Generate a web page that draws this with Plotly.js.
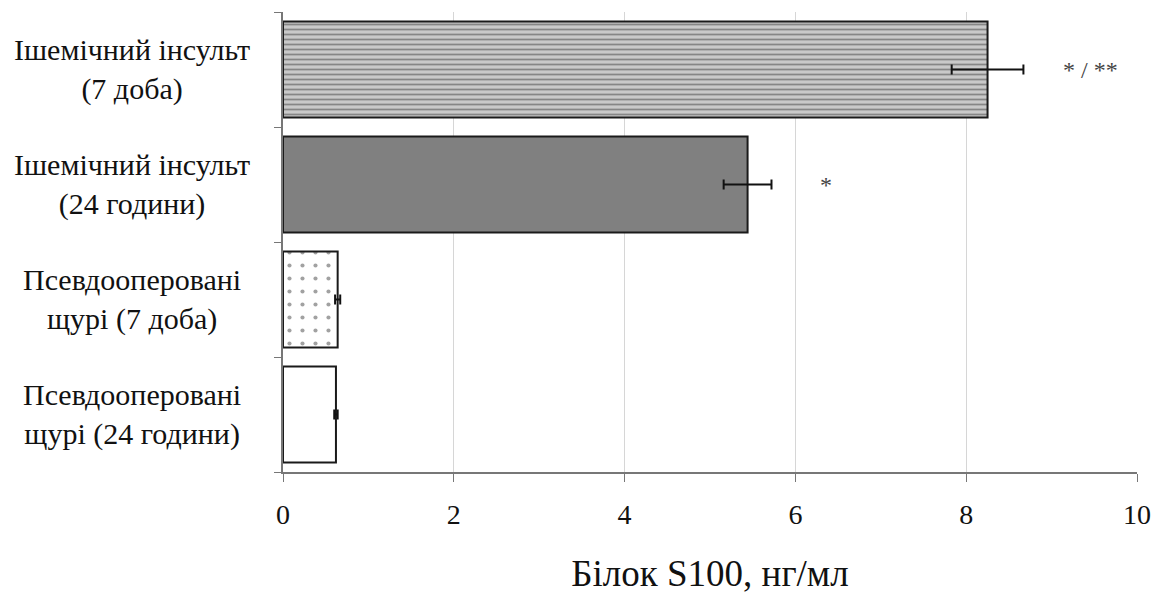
<!DOCTYPE html>
<html><head><meta charset="utf-8">
<script src="https://cdn.plot.ly/plotly-3.0.1.min.js"></script>
<style>body{margin:0;background:#fff}</style>
</head><body><div id="chart" style="width:1161px;height:594px"></div>
<script>
const categories = ["Псевдооперовані<br>щурі (24 години)", "Псевдооперовані<br>щурі (7 доба)", "Ішемічний інсульт<br>(24 години)", "Ішемічний інсульт<br>(7 доба)"];
const values = [0.62, 0.64, 5.44, 8.25];
const errors = [0.02, 0.03, 0.28, 0.42];
const significance = ["", "", "*", "* / **"];
const significanceX = [0, 0, 6.36, 9.45];
const xTicks = [0, 2, 4, 6, 8, 10];
const axisTitle = "Білок S100, нг/мл";

const serif = "Times New Roman, Liberation Serif, DejaVu Serif, serif";

const trace = {
  type: 'bar',
  orientation: 'h',
  y: categories,
  x: values,
  marker: {
    color: ['#ffffff', '#ffffff', '#808080', '#c9c9c9'],
    line: {color: '#1a1a1a', width: 2},
    pattern: {
      shape: ['', '.', '', '-'],
      fgcolor: ['#000000', '#b0b0b0', '#000000', '#909090'],
      size: [8, 13, 8, 5],
      solidity: [0.2, 0.08, 0.2, 0.35],
      fillmode: 'overlay'
    }
  },
  error_x: {type: 'data', array: errors, visible: true, color: '#111', thickness: 2, width: 5},
  hoverinfo: 'x+y'
};

const annotations = [];
categories.forEach((c, i) => {
  annotations.push({
    xref: 'paper', yref: 'y', x: -0.1768, y: c, text: c,
    showarrow: false, xanchor: 'center', yanchor: 'middle', align: 'center',
    font: {family: serif, size: 30, color: '#111'}
  });
  if (significance[i]) {
    annotations.push({
      xref: 'x', yref: 'y', x: significanceX[i], y: c, text: significance[i],
      showarrow: false, xanchor: 'center', yanchor: 'middle',
      font: {family: serif, size: 24, color: '#444'}
    });
  }
});

const layout = {
  width: 1161, height: 594,
  margin: {l: 283, r: 24, t: 12, b: 122},
  paper_bgcolor: '#ffffff', plot_bgcolor: '#ffffff',
  showlegend: false,
  bargap: 0.165,
  font: {family: serif, color: '#111'},
  xaxis: {
    range: [0, 10], tickvals: xTicks, ticktext: xTicks.map(String),
    showgrid: true, gridcolor: '#d6d6d6', gridwidth: 1,
    zeroline: false, showline: true, linecolor: '#777', linewidth: 2,
    ticks: 'outside', ticklen: 8, tickcolor: '#777', tickwidth: 1,
    ticklabelstandoff: 8,
    tickfont: {family: serif, size: 28, color: '#111'},
    title: {text: axisTitle, font: {family: serif, size: 37, color: '#111'}, standoff: 34}
  },
  yaxis: {
    type: 'category', categoryorder: 'array', categoryarray: categories,
    range: [-0.5, 3.5],
    showticklabels: false, showgrid: false, zeroline: false,
    showline: true, linecolor: '#777', linewidth: 2,
    ticks: 'outside', tickson: 'boundaries', ticklen: 7, tickcolor: '#777', tickwidth: 1
  },
  annotations: annotations
};

Plotly.newPlot('chart', [trace], layout, {displayModeBar: false, staticPlot: true});
</script>
</body></html>
